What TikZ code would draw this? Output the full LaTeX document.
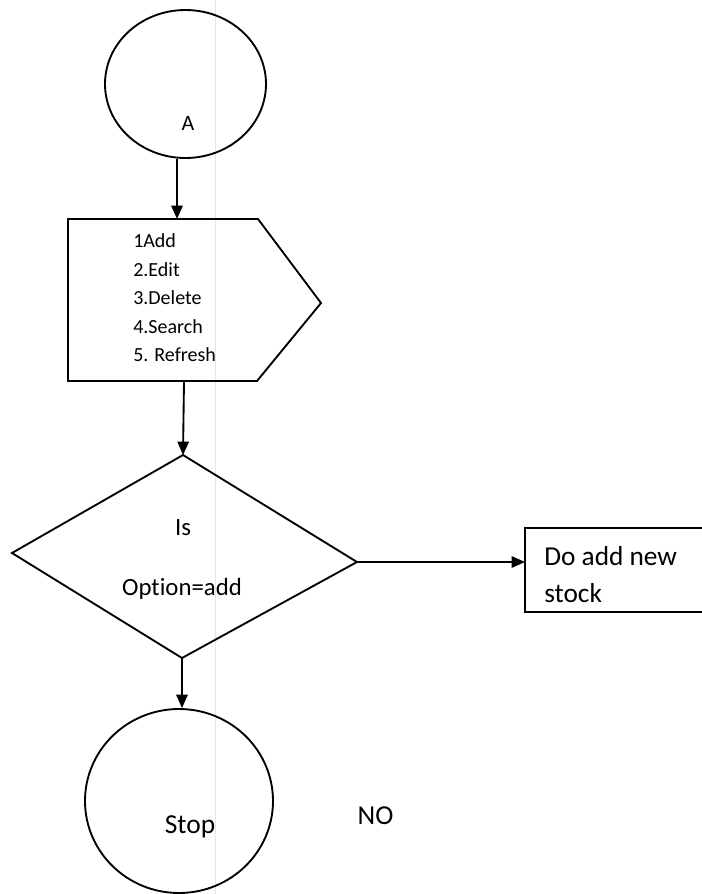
\documentclass[tikz,border=0pt]{standalone}
\usepackage{fontspec}
\setmainfont{Carlito}[Ligatures=CommonOff]
\usetikzlibrary{shapes.geometric,arrows.meta}

\tikzset{
  edge/.style={line width=1.4pt, black},
  arr/.style={edge, -{Triangle[length=10pt,width=8.5pt]}},
  terminal/.style={draw, line width=1.4pt, ellipse, inner sep=0pt},
  lbl/.style={inner sep=0pt, anchor=base},
  lblw/.style={inner sep=0pt, anchor=base west},
}

\begin{document}
\begin{tikzpicture}[x=0.75pt, y=-0.75pt]
  \useasboundingbox (0,0) rectangle (702,894);
  \clip (0,0) rectangle (702,894);
  \fill[white] (0,0) rectangle (702,894);

  % fold line of the sheet
  \draw[black!10, line width=0.6pt] (215,0) -- (215,894);

  % start connector
  \node[terminal, minimum width=120.75pt, minimum height=111pt] (A) at (185.5,84) {};
  \node[lbl, font=\fontsize{16.5}{18}\selectfont] (Alabel) at (188,130) {A};

  % menu (display shape)
  \coordinate (mtl) at (68,219);
  \coordinate (mtr) at (258,219);
  \coordinate (mtip) at (321,303);
  \coordinate (mbr) at (257,381);
  \coordinate (mbl) at (68,381);
  \coordinate (mtop) at (177,219);
  \coordinate (mbot) at (184,381);
  \draw[edge, line join=miter] (mtl) -- (mtr) -- (mtip) -- (mbr) -- (mbl) -- cycle;
  \begin{scope}[font=\fontsize{15}{18}\selectfont]
    \node[lblw] (opt1) at (133,247.5) {1Add};
    \node[lblw] (opt2) at (133,276) {2.Edit};
    \node[lblw] (opt3) at (133,304.5) {3.Delete};
    \node[lblw] (opt4) at (133,333) {4.Search};
    \node[lblw] (opt5) at (133,361.5) {5. Refresh};
  \end{scope}

  % decision
  \coordinate (dtop) at (183,455);
  \coordinate (dleft) at (12,553);
  \coordinate (dright) at (357,562);
  \coordinate (dbot) at (182,658);
  \draw[edge, line join=miter] (dtop) -- (dright) -- (dbot) -- (dleft) -- cycle;
  \begin{scope}[font=\fontsize{18.6}{22}\selectfont]
    \node[lbl] (is) at (183,535) {Is};
    \node[lbl] (cond) at (182,595) {Option=add};
  \end{scope}

  % process box (runs off the right edge)
  \coordinate (ptl) at (525,528);
  \coordinate (pin) at (525,562);
  \draw[edge] (ptl) rectangle (712,612);
  \begin{scope}[font=\fontsize{20.5}{24}\selectfont]
    \node[lblw] (do1) at (544,565) {Do add new};
    \node[lblw] (do2) at (544,602) {stock};
  \end{scope}

  % stop connector
  \node[terminal, minimum width=141pt, minimum height=138pt] (Stop) at (179,801) {};
  \node[lbl, font=\fontsize{20.6}{24}\selectfont] (stoplabel) at (190,833) {Stop};

  \node[lbl, font=\fontsize{20.5}{24}\selectfont] (no) at (375.5,824) {NO};

  % flow
  \draw[arr] (A.south -| mtop) -- (mtop);
  \draw[arr] (mbot) -- (dtop);
  \draw[arr] (dright) -- (pin);
  \draw[arr] (dbot) -- (dbot |- Stop.north);
\end{tikzpicture}
\end{document}
